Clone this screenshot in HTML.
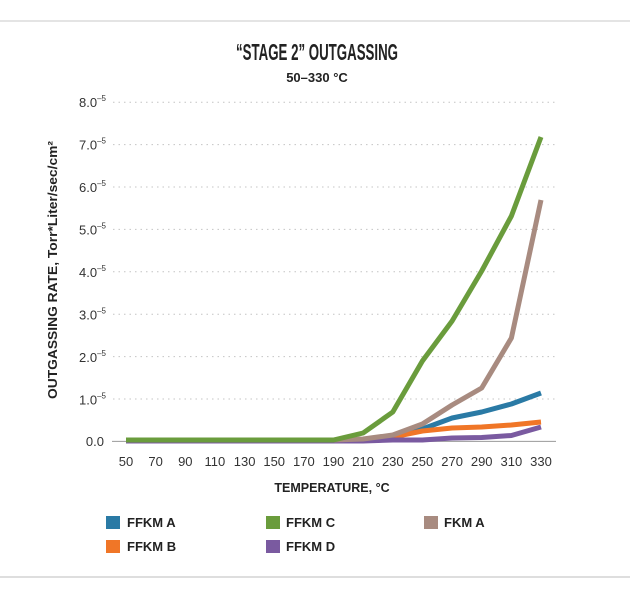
<!DOCTYPE html>
<html><head><meta charset="utf-8"><style>
html,body{margin:0;padding:0;background:#fff;}
svg{display:block;}
text{font-family:"Liberation Sans",Arial,sans-serif;}
</style></head><body>
<svg width="630" height="600" viewBox="0 0 630 600" xmlns="http://www.w3.org/2000/svg">
<rect width="630" height="600" fill="#fff"/>
<line x1="0" y1="21" x2="630" y2="21" stroke="#d4d4d4" stroke-width="1.2"/>
<line x1="0" y1="577" x2="630" y2="577" stroke="#d4d4d4" stroke-width="1.5"/>
<text x="317" y="60" text-anchor="middle" font-size="23" font-weight="bold" fill="#222" style="font-family:'Liberation Sans Narrow','Liberation Sans',sans-serif" textLength="162" lengthAdjust="spacingAndGlyphs">“STAGE 2” OUTGASSING</text>
<text x="317" y="82" text-anchor="middle" font-size="13" font-weight="bold" fill="#222">50–330 °C</text>
<g stroke="#c4c4c4" stroke-width="1" stroke-dasharray="1.5 4">
<line x1="113" y1="102.2" x2="556" y2="102.2"/>
<line x1="113" y1="144.6" x2="556" y2="144.6"/>
<line x1="113" y1="187" x2="556" y2="187"/>
<line x1="113" y1="229.4" x2="556" y2="229.4"/>
<line x1="113" y1="271.8" x2="556" y2="271.8"/>
<line x1="113" y1="314.2" x2="556" y2="314.2"/>
<line x1="113" y1="356.6" x2="556" y2="356.6"/>
<line x1="113" y1="399" x2="556" y2="399"/>
</g>
<line x1="112" y1="441.4" x2="556" y2="441.4" stroke="#9a9a9a" stroke-width="1"/>
<g font-size="13" fill="#333" text-anchor="end">
<text x="106" y="107">8.0<tspan font-size="8" dy="-6">–5</tspan></text>
<text x="106" y="149.5">7.0<tspan font-size="8" dy="-6">–5</tspan></text>
<text x="106" y="192">6.0<tspan font-size="8" dy="-6">–5</tspan></text>
<text x="106" y="234.5">5.0<tspan font-size="8" dy="-6">–5</tspan></text>
<text x="106" y="277">4.0<tspan font-size="8" dy="-6">–5</tspan></text>
<text x="106" y="319.5">3.0<tspan font-size="8" dy="-6">–5</tspan></text>
<text x="106" y="362">2.0<tspan font-size="8" dy="-6">–5</tspan></text>
<text x="106" y="404.5">1.0<tspan font-size="8" dy="-6">–5</tspan></text>
<text x="104" y="446">0.0</text>
</g>
<g font-size="13" fill="#333" text-anchor="middle">
<text x="126" y="466">50</text>
<text x="155.6" y="466">70</text>
<text x="185.3" y="466">90</text>
<text x="214.9" y="466">110</text>
<text x="244.6" y="466">130</text>
<text x="274.2" y="466">150</text>
<text x="303.9" y="466">170</text>
<text x="333.5" y="466">190</text>
<text x="363.1" y="466">210</text>
<text x="392.8" y="466">230</text>
<text x="422.4" y="466">250</text>
<text x="452.1" y="466">270</text>
<text x="481.7" y="466">290</text>
<text x="511.4" y="466">310</text>
<text x="541" y="466">330</text>
</g>
<text x="332" y="492" text-anchor="middle" font-size="12.5" font-weight="bold" fill="#222">TEMPERATURE, °C</text>
<text transform="translate(57,270) rotate(-90)" text-anchor="middle" font-size="12.5" font-weight="bold" fill="#222" textLength="258" lengthAdjust="spacingAndGlyphs">OUTGASSING RATE, Torr*Liter/sec/cm²</text>
<g fill="none" stroke-width="5" stroke-linejoin="round">
<polyline stroke="#2a7aa5" points="126,441 333.5,441 363.1,440 392.8,437 422.4,429 452.1,418 481.7,412 511.4,404 541,393"/>
<polyline stroke="#f07627" points="126,441 333.5,441 363.1,440 392.8,437 422.4,431 452.1,428 481.7,427 511.4,425 541,422"/>
<polyline stroke="#7a5aa0" points="126,441 333.5,441 363.1,441 392.8,440 422.4,440 452.1,438 481.7,437.5 511.4,435.5 541,427"/>
<polyline stroke="#a88b80" points="126,440 333.5,440 363.1,439 392.8,435 422.4,424 452.1,405 481.7,388 511.4,338 541,200"/>
<polyline stroke="#6a9c3c" points="126,440 333.5,440 363.1,433 392.8,412 422.4,361 452.1,321 481.7,271 511.4,216 541,137"/>
</g>
<g font-size="13" font-weight="bold" fill="#222">
<rect x="106" y="516" width="14" height="13" fill="#2a7aa5"/>
<text x="127" y="527">FFKM A</text>
<rect x="106" y="540" width="14" height="13" fill="#f07627"/>
<text x="127" y="551">FFKM B</text>
<rect x="266" y="516" width="14" height="13" fill="#6a9c3c"/>
<text x="286" y="527">FFKM C</text>
<rect x="266" y="540" width="14" height="13" fill="#7a5aa0"/>
<text x="286" y="551">FFKM D</text>
<rect x="424" y="516" width="14" height="13" fill="#a88b80"/>
<text x="444" y="527">FKM A</text>
</g>
</svg>
</body></html>
